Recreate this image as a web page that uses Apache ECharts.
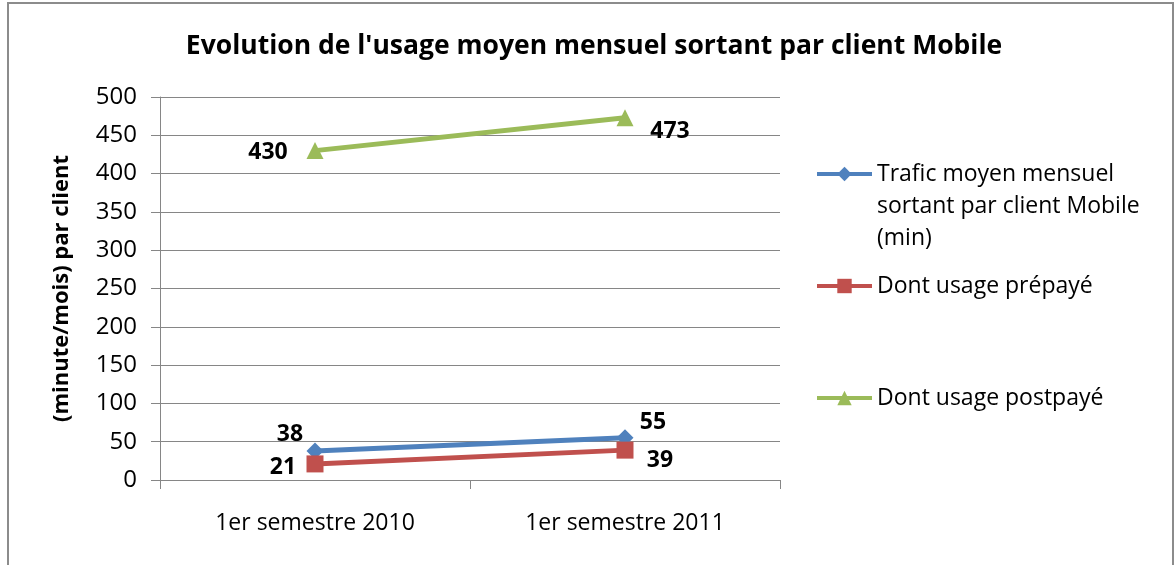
<!DOCTYPE html>
<html>
<head>
<meta charset="utf-8">
<script src="https://cdn.jsdelivr.net/npm/echarts@6/dist/echarts.min.js"></script>
<style>
  html, body { margin: 0; padding: 0; background: #fff; }
  #cadre { position: absolute; left: 7px; top: 2px; width: 1167px; height: 600px;
           border: 2px solid #8c8c8c; box-sizing: border-box; }
  #graphique { position: absolute; left: 0; top: 0; width: 1176px; height: 565px; }
</style>
</head>
<body>
<div id="cadre"></div>
<div id="graphique"></div>
<script>
// Données
const semestres = ['1er semestre 2010', '1er semestre 2011'];
const traficMoyen = [38, 55];
const usagePrepaye = [21, 39];
const usagePostpaye = [430, 473];
const nomsSeries = [
    'Trafic moyen mensuel sortant par client Mobile (min)',
    'Dont usage prépayé',
    'Dont usage postpayé'
];
const graduationsY = [0, 50, 100, 150, 200, 250, 300, 350, 400, 450, 500];

const police = '"Open Sans", Lato, sans-serif';

// Décalage des étiquettes par rapport au point
function avecEtiquettes(valeurs, decalages) {
    return valeurs.map((v, i) => ({
        value: v,
        label: { show: true, position: 'inside', offset: decalages[i] }
    }));
}

function serie(nom, valeurs, couleur, symbole, decalages) {
    return {
        name: nom,
        type: 'line',
        data: avecEtiquettes(valeurs, decalages),
        symbol: symbole,
        symbolSize: 17,
        lineStyle: { color: couleur, width: 5 },
        itemStyle: { color: couleur },
        label: { color: '#000', fontWeight: 'bold', fontSize: 23, fontFamily: police },
        emphasis: { disabled: true },
        animation: false
    };
}

const graphique = echarts.init(document.getElementById('graphique'));

const styleLegende = { fontSize: 23, color: '#000', fontFamily: police, lineHeight: 32 };
const legendeCommune = {
    orient: 'vertical', left: 815, padding: 0,
    itemWidth: 55, itemHeight: 18, itemGap: 0,
    lineStyle: { width: 4 },
    textStyle: styleLegende
};

graphique.setOption({
    backgroundColor: 'transparent',
    title: {
        text: "Evolution de l'usage moyen mensuel sortant par client Mobile",
        left: 589, top: 28, textAlign: 'center',
        textStyle: { fontSize: 26.5, fontWeight: 'bold', color: '#000', fontFamily: police }
    },
    legend: [
        Object.assign({}, legendeCommune, {
            data: [nomsSeries[0]], top: 94,
            // deux lignes vides pour aligner le symbole sur la première ligne
            formatter: () => '\n\nTrafic moyen mensuel\nsortant par client Mobile\n(min)'
        }),
        Object.assign({}, legendeCommune, { data: [nomsSeries[1]], top: 270 }),
        Object.assign({}, legendeCommune, { data: [nomsSeries[2]], top: 382 })
    ],
    grid: { left: 160, right: 396, top: 97, bottom: 85, containLabel: false },
    xAxis: {
        type: 'category',
        data: semestres,
        boundaryGap: true,
        axisLine: { lineStyle: { color: '#868686', width: 1 } },
        axisTick: { show: true, length: 9, lineStyle: { color: '#868686' } },
        axisLabel: { fontSize: 23, color: '#000', fontFamily: police, margin: 32 }
    },
    yAxis: {
        type: 'value',
        min: graduationsY[0],
        max: graduationsY[graduationsY.length - 1],
        interval: 50,
        name: '(minute/mois) par client',
        nameLocation: 'middle',
        nameRotate: 90,
        nameGap: 87,
        nameTextStyle: { fontSize: 22, fontWeight: 'bold', color: '#000', fontFamily: police },
        axisLine: { show: true, lineStyle: { color: '#868686', width: 1 } },
        axisTick: { show: true, length: 9, lineStyle: { color: '#868686' } },
        axisLabel: { fontSize: 24, color: '#000', fontFamily: police, margin: 23 },
        splitLine: { lineStyle: { color: '#868686', width: 1 } }
    },
    series: [
        serie(nomsSeries[0], traficMoyen, '#4F81BD', 'diamond', [[-25, -16], [28, -15]]),
        serie(nomsSeries[1], usagePrepaye, '#C0504D', 'rect', [[-32, 4], [35, 10]]),
        serie(nomsSeries[2], usagePostpaye, '#9BBB59', 'triangle', [[-47, 2], [45, 14]])
    ]
});
</script>
</body>
</html>
